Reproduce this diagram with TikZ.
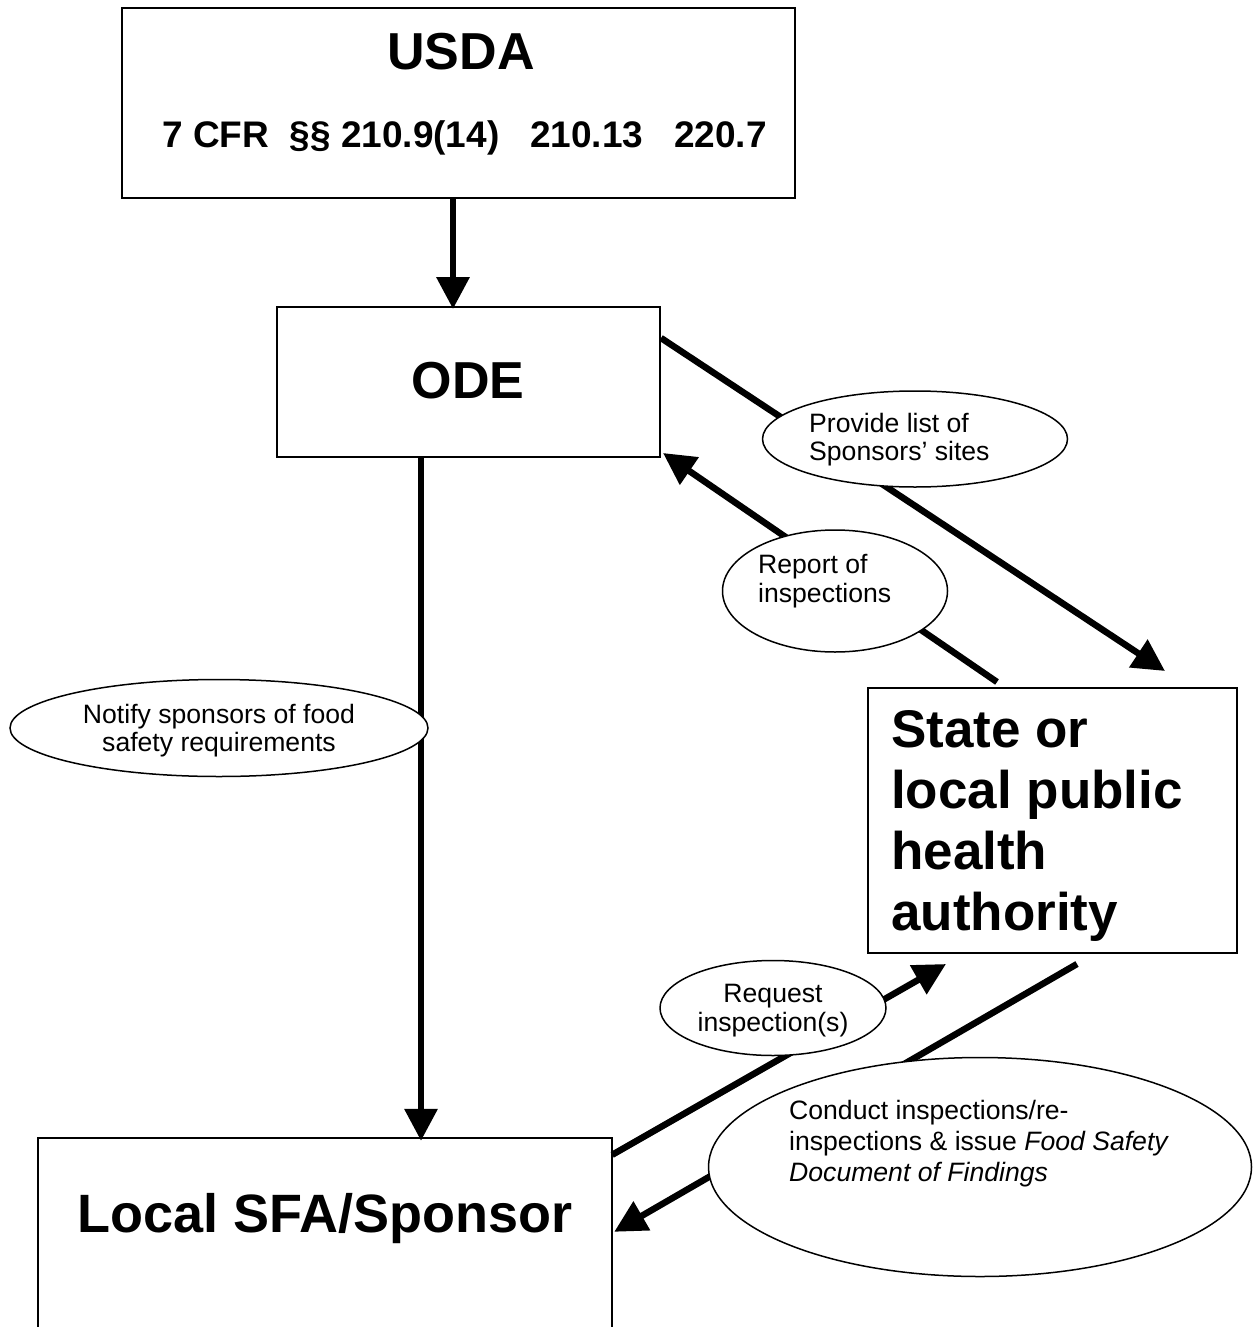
\documentclass[tikz,border=0pt]{standalone}
\usepackage{fontspec}
\setmainfont{Liberation Sans}
\usetikzlibrary{arrows.meta,shapes.geometric}
\begin{document}
\begin{tikzpicture}[x=1pt,y=-1pt,
  box/.style={draw, line width=2pt, rectangle, inner sep=0pt},
  ell/.style={draw, line width=1.5pt, fill=white, ellipse, inner sep=0pt},
  arr/.style={line width=6.5pt, -{Triangle[length=32pt,width=32pt]}},
  big/.style={font=\bfseries\fontsize{52}{61}\selectfont, inner sep=0pt},
  mid/.style={font=\bfseries\fontsize{37}{40}\selectfont, inner sep=0pt},
  small/.style={font=\fontsize{26.6}{29}\selectfont, inner sep=0pt}]
\useasboundingbox (0,0) rectangle (1253,1327);
\clip (0,0) rectangle (1253,1327);
\fill[white] (0,0) rectangle (1253,1327);
% boxes
\node[box, minimum width=673pt, minimum height=190pt] (usda) at (458.5,103) {};
\node[box, minimum width=383pt, minimum height=150pt] (ode) at (468.5,382) {};
\node[box, minimum width=369pt, minimum height=265pt] (state) at (1052.5,820.5) {};
\node[rectangle, inner sep=0pt, minimum width=574pt, minimum height=150pt] (local) at (325,1213) {};
\draw[line width=2pt] ([yshift=-60pt]local.south west) |- (local.north east) -- ([yshift=-60pt]local.south east);
% arrows
\draw[arr] ([xshift=-5.5pt]usda.south) -- ([xshift=-15.5pt,yshift=-3pt]ode.north);
\draw[arr] ([xshift=-47.5pt]ode.south) -- ([xshift=96pt,yshift=-3pt]local.north);
\draw[arr] ([yshift=44pt]ode.east) -- ([xshift=112.5pt,yshift=16pt]state.north);
\draw[arr] ([xshift=-55.5pt,yshift=5pt]state.north) -- ([xshift=2pt,yshift=5pt]ode.south east);
\draw[arr] ([yshift=-17pt]local.north east) -- ([xshift=-106.5pt,yshift=-10pt]state.south);
\draw[arr] ([xshift=24.5pt,yshift=-10pt]state.south) -- ([xshift=2pt,yshift=-94pt]local.north east);
% ellipses
\node[ell, minimum width=305pt, minimum height=96pt] (prov) at (915,439) {};
\node[ell, minimum width=225pt, minimum height=122pt] (rep) at (835,591) {};
\node[ell, minimum width=418pt, minimum height=97pt] (notif) at (219,728) {};
\node[ell, minimum width=226pt, minimum height=95pt] (req) at (773,1008) {};
\node[ell, minimum width=543pt, minimum height=219pt] (cond) at (980,1167) {};
% texts
\node[big, anchor=base] (usdaT) at (461,70) {USDA};
\node[mid, anchor=base west] (cfrT) at (162,147) {7 CFR\ \ §§ 210.9(14)\ \ \ 210.13\ \ \ 220.7};
\node[big, anchor=base] (odeT) at (468,398) {ODE};
\node[big, anchor=base, font=\bfseries\fontsize{54}{61}\selectfont] (localT) at (325,1232) {Local SFA/Sponsor};
\node[big, anchor=base west, align=left, font=\bfseries\fontsize{53}{61}\selectfont] (stateT) at (891,930) {State or\\local public\\health\\authority};
\node[small, anchor=base west, align=left, font=\fontsize{26.6}{28}\selectfont] (provT) at (809,460) {Provide list of\\Sponsors’ sites};
\node[small, anchor=base west, align=left] (repT) at (758,602) {Report of\\inspections};
\node[small, anchor=base, align=center, font=\fontsize{26.6}{28}\selectfont] (notT) at (219,751) {Notify sponsors of food\\safety requirements};
\node[small, anchor=base, align=center, font=\fontsize{26.6}{28.5}\selectfont] (reqT) at (773,1031) {Request\\inspection(s)};
\node[small, anchor=base west, align=left, font=\fontsize{26.6}{31}\selectfont] (condT) at (789,1181) {Conduct inspections/re-\\inspections \& issue \textit{Food Safety}\\\textit{Document of Findings}};
\end{tikzpicture}
\end{document}
